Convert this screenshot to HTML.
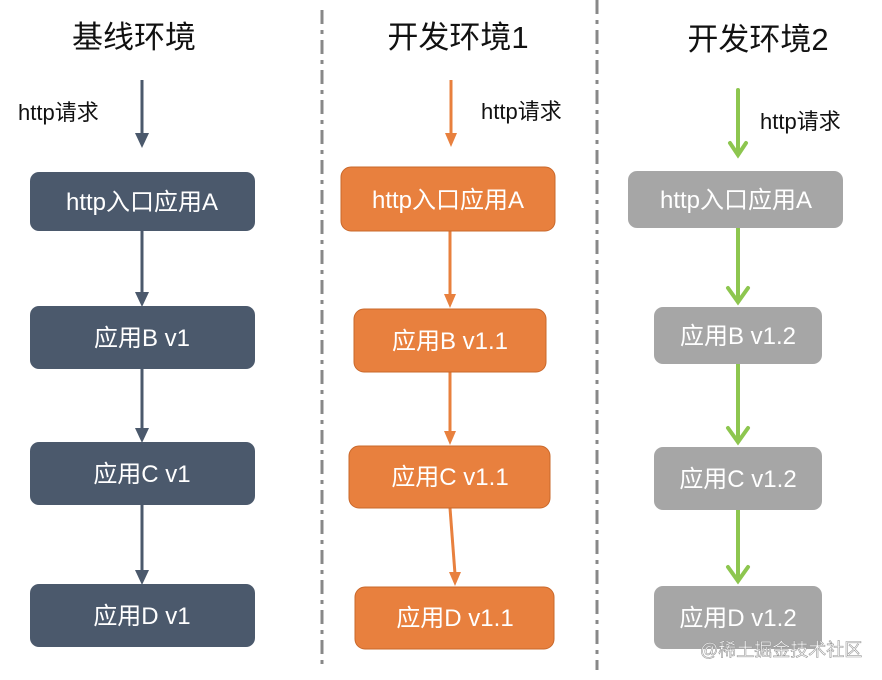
<!DOCTYPE html>
<html><head><meta charset="utf-8"><style>
body{margin:0;background:#fff}
svg{display:block}
text{font-family:"Liberation Sans","Noto Sans CJK SC",sans-serif}
</style></head><body>
<svg width="882" height="680" viewBox="0 0 882 680">
<defs>
<marker id="ad" markerWidth="10" markerHeight="10" refX="5" refY="9" orient="auto" markerUnits="userSpaceOnUse" viewBox="0 0 10 10"><path d="M0,0 L10,0 L5,10z" fill="#4b596c" transform="rotate(0)"/></marker>
</defs>
<!-- dividers -->
<line x1="322" y1="10" x2="322" y2="670" stroke="#888" stroke-width="3" stroke-dasharray="14,6,4,6"/>
<line x1="597" y1="0" x2="597" y2="670" stroke="#888" stroke-width="3" stroke-dasharray="14,6,4,6"/>
<!-- titles -->
<g font-size="31" fill="#111" text-anchor="middle">
<text x="134" y="48">基线环境</text>
<text x="458" y="48">开发环境1</text>
<text x="758" y="50">开发环境2</text>
</g>
<g font-size="22" fill="#111">
<text x="18" y="120">http请求</text>
<text x="481" y="119">http请求</text>
<text x="760" y="129">http请求</text>
</g>
<!-- col1 -->
<g stroke="#4b596c" stroke-width="3">
<line x1="142" y1="80" x2="142" y2="135"/>
<line x1="142" y1="231" x2="142" y2="294"/>
<line x1="142" y1="369" x2="142" y2="430"/>
<line x1="142" y1="505" x2="142" y2="572"/>
</g>
<g fill="#4b596c">
<path d="M135,133 L149,133 L142,148z"/>
<path d="M135,292 L149,292 L142,307z"/>
<path d="M135,428 L149,428 L142,443z"/>
<path d="M135,570 L149,570 L142,585z"/>
<rect x="30" y="172" width="225" height="59" rx="9"/>
<rect x="30" y="306" width="225" height="63" rx="9"/>
<rect x="30" y="442" width="225" height="63" rx="9"/>
<rect x="30" y="584" width="225" height="63" rx="9"/>
</g>
<!-- col2 -->
<g stroke="#e8803e" stroke-width="3">
<line x1="451" y1="80" x2="451" y2="135"/>
<line x1="450" y1="231" x2="450" y2="296"/>
<line x1="450" y1="372" x2="450" y2="433"/>
<line x1="450" y1="508" x2="455" y2="574"/>
</g>
<g fill="#e8803e">
<path d="M445,133 L457,133 L451,147z"/>
<path d="M444,294 L456,294 L450,308z"/>
<path d="M444,431 L456,431 L450,445z"/>
<path d="M449,572 L461,572 L455,586z"/>
<rect x="341" y="167" width="214" height="64" rx="10" stroke="#c9682b" stroke-width="1"/>
<rect x="354" y="309" width="192" height="63" rx="10" stroke="#c9682b" stroke-width="1"/>
<rect x="349" y="446" width="201" height="62" rx="10" stroke="#c9682b" stroke-width="1"/>
<rect x="355" y="587" width="199" height="62" rx="10" stroke="#c9682b" stroke-width="1"/>
</g>
<!-- col3 -->
<g stroke="#8dc64f" stroke-width="4" fill="none" stroke-linecap="round">
<line x1="738" y1="90" x2="738" y2="154"/>
<line x1="738" y1="228" x2="738" y2="301"/>
<line x1="738" y1="364" x2="738" y2="441"/>
<line x1="738" y1="510" x2="738" y2="580"/>
<path d="M730,143 L738,155 L746,143"/>
<path d="M728,288 L738,302 L748,288"/>
<path d="M728,428 L738,442 L748,428"/>
<path d="M728,567 L738,581 L748,567"/>
</g>
<g fill="#a6a6a6">
<rect x="628" y="171" width="215" height="57" rx="9"/>
<rect x="654" y="307" width="168" height="57" rx="9"/>
<rect x="654" y="447" width="168" height="63" rx="9"/>
<rect x="654" y="586" width="168" height="63" rx="9"/>
</g>
<!-- labels -->
<g font-size="24" fill="#fff" text-anchor="middle">
<text x="142" y="210">http入口应用A</text>
<text x="142" y="346">应用B v1</text>
<text x="142" y="482">应用C v1</text>
<text x="142" y="624">应用D v1</text>
<text x="448" y="208">http入口应用A</text>
<text x="450" y="349">应用B v1.1</text>
<text x="450" y="485">应用C v1.1</text>
<text x="455" y="626">应用D v1.1</text>
<text x="736" y="208">http入口应用A</text>
<text x="738" y="344">应用B v1.2</text>
<text x="738" y="487">应用C v1.2</text>
<text x="738" y="626">应用D v1.2</text>
</g>
<text x="700" y="656" font-size="18" fill="#fff" stroke="#999" stroke-width="0.6">@稀土掘金技术社区</text>
</svg>
</body></html>
